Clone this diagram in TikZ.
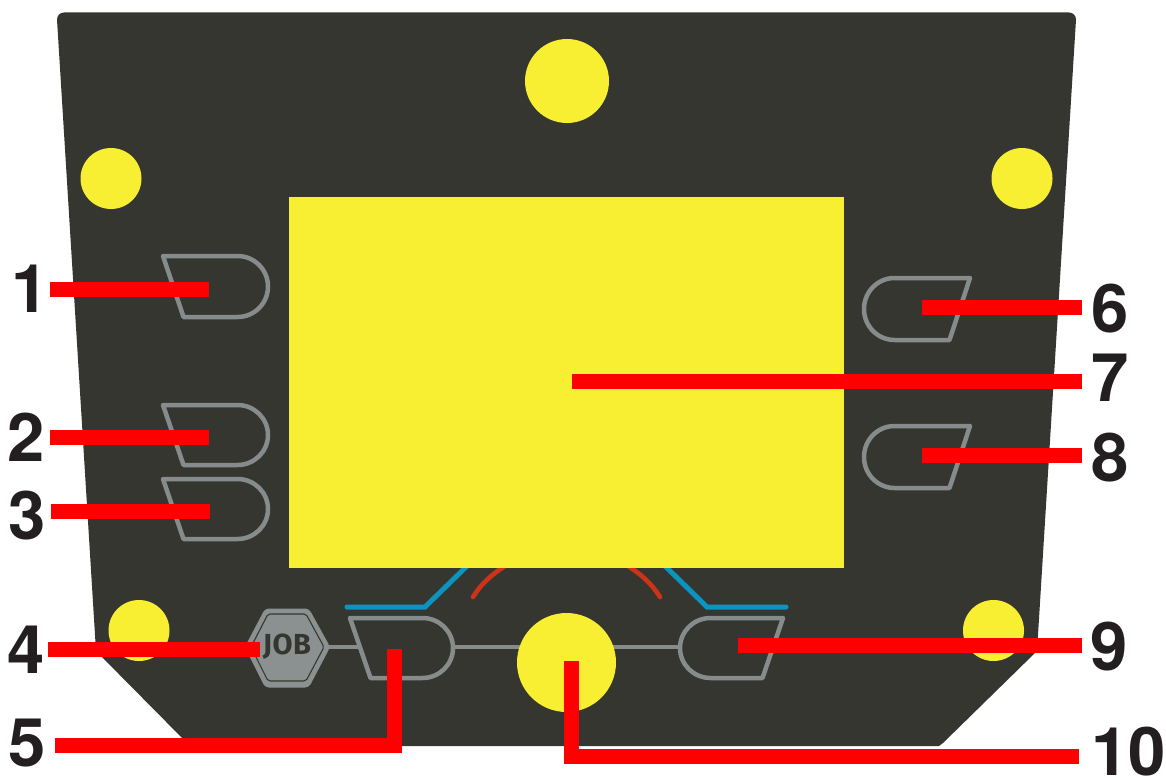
\documentclass[tikz,border=0pt]{standalone}
\usepackage{fontspec}
\setmainfont{TeX Gyre Heros}
\newfontfamily\jobfont[LetterSpace=2]{Fira Sans}
\definecolor{panel}{HTML}{363630}
\definecolor{lamp}{HTML}{F8EE32}
\definecolor{edge}{HTML}{868C8C}
\definecolor{hexfill}{HTML}{8B9191}
\definecolor{ink}{HTML}{231F20}
\definecolor{bluetrace}{HTML}{0A94BE}
\definecolor{redtrace}{HTML}{CC3318}
\definecolor{leader}{HTML}{FF0000}
\tikzset{
  x=1pt,y=-1pt,
  lampdot/.style={circle,fill=lamp,draw=none,inner sep=0pt},
  keyshape/.style={draw=edge,line width=4.5pt,line join=round,fill=panel},
  wire/.style={draw=edge,line width=4.4pt},
  bluewire/.style={draw=bluetrace,line width=5pt,line cap=round,line join=miter},
  redwire/.style={draw=redtrace,line width=4.6pt,line cap=round},
  leaderline/.style={draw=leader,line width=15pt,line cap=butt,line join=miter},
  digit/.style={font=\fontsize{67}{67}\selectfont\bfseries,text=ink,inner sep=0pt,anchor=center},
}
\newcommand{\keyL}[4]{% x-left-top, y-top, y-bottom, x-right
  \draw[keyshape] (#1,#2) -- ({#4-30.5},#2) arc[start angle=90,end angle=-90,x radius=30.5pt,y radius={(#3-#2)/2*1pt}] -- ({#1+20.5},#3) -- cycle;}
\newcommand{\keyR}[4]{% x-right-top, y-top, y-bottom, x-left
  \draw[keyshape] (#1,#2) -- ({#4+30.5},#2) arc[start angle=90,end angle=270,x radius=30.5pt,y radius={(#3-#2)/2*1pt}] -- ({#1-20.5},#3) -- cycle;}
\begin{document}
\begin{tikzpicture}
\useasboundingbox (0,0) rectangle (1166,778);
% panel
\fill[panel] (64,12.5) -- (1069,12.5) arc[start angle=90,end angle=0,radius=7pt]
  -- (1037,651) -- (943,743) -- (939,746) -- (190,746) -- (96,651) -- (57,19.5)
  arc[start angle=180,end angle=90,radius=7pt] -- cycle;
% wires behind
\coordinate (hexE) at (329,647);
\coordinate (key5W) at (358,647);
\coordinate (key5E) at (455,647);
\coordinate (key9W) at (680,647);
\coordinate (hub) at (566,647);
\draw[wire] (hexE) -- (key5W);
\draw[wire] (key5E) -- (hub);
\draw[wire] (hub) -- (key9W);
% lamps
\node[lampdot,minimum size=84pt] (topdial) at (567,81) {};
\node[lampdot,minimum size=61pt] (tl) at (111,178.5) {};
\node[lampdot,minimum size=61pt] (tr) at (1022,178.5) {};
\node[lampdot,minimum size=61pt] (bl) at (139,630.5) {};
\node[lampdot,minimum size=61pt] (br) at (993.5,630.5) {};
\node[lampdot,minimum size=99pt] (bigdial) at (566.5,662.5) {};
% traces
\draw[bluewire] (347,607) -- (425,607) -- (467,566);
\draw[bluewire] (786,607) -- (707,607) -- (665,566);
\draw[redwire] (473,597) .. controls (481,584) and (491,575) .. (505,566);
\draw[redwire] (660,597) .. controls (652,584) and (642,575) .. (628,566);
% screen
\node[fill=lamp,draw=none,minimum width=555pt,minimum height=371pt,inner sep=0pt,anchor=north west] (screen) at (289,197) {};
% keys
\keyL{163}{256}{317}{268}
\keyL{163}{405}{465}{268}
\keyL{163}{479}{539}{268}
\keyL{350}{618}{678}{453}
\keyR{970}{278}{340}{864}
\keyR{970}{426}{488}{864}
\keyR{783}{618}{678}{680}
% JOB hexagon
\draw[fill=hexfill,draw=hexfill,line width=3pt,line join=round,rounded corners=3pt]
  (246.5,647) -- (266,610) -- (308,610) -- (328.5,647) -- (308,686) -- (266,686) -- cycle;
\draw[draw=panel,line width=1.1pt,line join=round,rounded corners=2pt]
  (251,647) -- (268,614) -- (306,614) -- (324,647) -- (306,681) -- (268,681) -- cycle;
\node[font=\jobfont\fontsize{29}{29}\selectfont\bfseries,text=panel,inner sep=0pt] (job) at (287,647) {JOB};
% numbers
\node[digit] (n1) at (30,288.5) {1};
\node[digit] (n2) at (26,437.5) {2};
\node[digit] (n3) at (27.5,516) {3};
\node[digit] (n4) at (26.5,650) {4};
\node[digit] (n5) at (27,743) {5};
\node[digit] (n6) at (1110,309) {6};
\node[digit] (n7) at (1110,378) {7};
\node[digit] (n8) at (1110,458) {8};
\node[digit] (n9) at (1109.5,646.5) {9};
\node[digit,anchor=west] (n10) at (1091,752) {10};
% leaders
\coordinate (a1) at (50,289); \coordinate (b1) at (209,289);
\coordinate (a2) at (50,437); \coordinate (b2) at (209,437);
\coordinate (a3) at (51,511); \coordinate (b3) at (210,511);
\coordinate (a4) at (48,649.5); \coordinate (b4) at (260,649.5);
\coordinate (a5) at (55,745.5); \coordinate (c5) at (394.5,745.5); \coordinate (b5) at (394.5,649);
\coordinate (a6) at (1082,307); \coordinate (b6) at (922,307);
\coordinate (a7) at (1082,381); \coordinate (b7) at (572,381);
\coordinate (a8) at (1082,455); \coordinate (b8) at (922,455);
\coordinate (a9) at (1082,645.5); \coordinate (b9) at (738,645.5);
\coordinate (a10) at (1079,756.5); \coordinate (c10) at (571.5,756.5); \coordinate (b10) at (571.5,661);
\draw[leaderline] (a1) -- (b1);
\draw[leaderline] (a2) -- (b2);
\draw[leaderline] (a3) -- (b3);
\draw[leaderline] (a4) -- (b4);
\draw[leaderline] (a5) -- (c5) -- (b5);
\draw[leaderline] (a6) -- (b6);
\draw[leaderline] (a7) -- (b7);
\draw[leaderline] (a8) -- (b8);
\draw[leaderline] (a9) -- (b9);
\draw[leaderline] (a10) -- (c10) -- (b10);
\end{tikzpicture}
\end{document}
